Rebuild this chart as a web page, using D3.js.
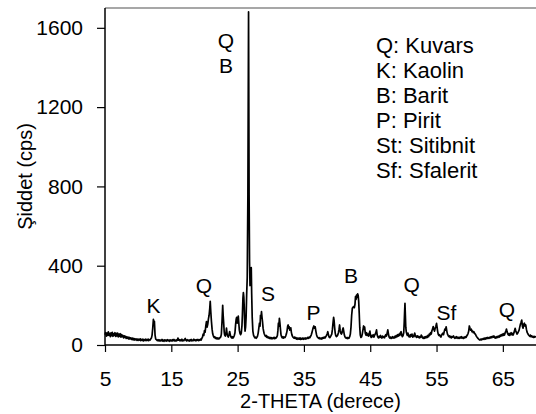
<!DOCTYPE html>
<html>
<head>
<meta charset="utf-8">
<script src="https://cdn.jsdelivr.net/npm/d3@7"></script>
<style>
  html, body { margin: 0; padding: 0; background: #fff; }
  svg { display: block; }
  text { font-family: "Liberation Sans", Arial, sans-serif; fill: #000; }
</style>
</head>
<body>
<svg id="chart" width="536" height="414"></svg>
<script>
// ---- data: [2-theta (deg), intensity (cps)] ----
const xrdPattern = [
  [5.0,52],[5.1,63],[5.2,45],[5.3,60],[5.4,48],[5.5,66],[5.6,50],[5.7,58],[5.8,42],[5.9,61],
  [6.0,47],[6.1,64],[6.2,44],[6.3,57],[6.4,49],[6.5,62],[6.6,43],[6.7,59],[6.8,46],[6.9,60],
  [7.0,41],[7.1,55],[7.2,44],[7.3,57],[7.4,40],[7.5,52],[7.6,42],[7.7,48],[7.8,36],[7.9,46],
  [8.0,38],[8.1,44],[8.2,33],[8.3,41],[8.4,34],[8.5,39],[8.6,30],[8.7,38],[8.8,31],[8.9,36],
  [9.0,28],[9.1,35],[9.2,27],[9.3,33],[9.4,25],[9.5,32],[9.6,26],[9.7,31],[9.8,24],[9.9,30],
  [10.0,23],[10.1,29],[10.2,25],[10.3,31],[10.4,22],[10.5,28],[10.6,24],[10.7,30],[10.8,21],[10.9,27],
  [11.0,23],[11.1,29],[11.2,22],[11.3,28],[11.4,24],[11.5,30],[11.6,22],[11.7,27],[11.8,25],[11.9,31],
  [12.0,35],[12.1,50],[12.2,85],[12.3,130],[12.35,105],[12.45,120],[12.55,50],[12.65,30],[12.8,26],[12.9,22],
  [13.0,27],[13.1,21],[13.2,26],[13.3,20],[13.4,25],[13.5,22],[13.6,28],[13.7,20],[13.8,24],[13.9,19],
  [14.0,26],[14.1,21],[14.2,25],[14.3,20],[14.4,27],[14.5,22],[14.6,24],[14.7,19],[14.8,26],[14.9,21],
  [15.0,25],[15.1,20],[15.2,27],[15.3,22],[15.4,28],[15.5,21],[15.6,25],[15.7,20],[15.8,26],[15.9,23],
  [16.0,35],[16.1,24],[16.2,27],[16.3,21],[16.4,26],[16.5,22],[16.6,29],[16.7,21],[16.8,25],[16.9,22],
  [17.0,28],[17.1,33],[17.2,24],[17.3,21],[17.4,27],[17.5,22],[17.6,25],[17.7,20],[17.8,26],[17.9,22],
  [18.0,28],[18.1,21],[18.2,25],[18.3,22],[18.4,29],[18.5,23],[18.6,26],[18.7,21],[18.8,27],[18.9,24],
  [19.0,28],[19.1,22],[19.2,26],[19.3,24],[19.4,30],[19.5,25],[19.6,33],[19.7,40],
  [19.8,55],[19.9,48],[20.0,72],[20.1,65],[20.2,95],[20.3,118],[20.4,90],[20.5,105],[20.6,132],[20.7,150],
  [20.8,185],[20.87,220],[20.95,170],[21.05,120],[21.15,80],[21.25,55],[21.35,45],[21.45,38],[21.55,42],[21.65,33],
  [21.75,37],[21.85,31],[21.95,36],[22.05,30],[22.15,35],[22.25,32],[22.35,38],[22.45,40],[22.55,55],[22.65,120],
  [22.75,200],[22.82,150],[22.9,110],[22.98,65],[23.05,50],[23.15,45],[23.25,60],[23.32,85],[23.4,60],[23.5,45],
  [23.6,40],[23.7,52],[23.8,68],[23.9,50],[24.0,40],[24.1,36],[24.2,42],[24.3,35],[24.4,40],[24.5,48],
  [24.6,62],[24.7,105],[24.78,130],[24.86,140],[24.94,110],[25.02,125],[25.1,146],[25.18,110],[25.26,75],[25.35,60],
  [25.45,52],[25.55,60],[25.65,95],[25.72,150],[25.8,235],[25.87,264],[25.94,240],[26.0,190],[26.06,110],[26.12,70],
  [26.2,90],[26.28,140],[26.36,250],[26.45,340],[26.55,760],[26.65,1680],[26.73,760],[26.8,420],[26.87,300],[26.93,385],
  [27.0,360],[27.06,390],[27.12,260],[27.2,140],[27.3,70],[27.4,50],[27.5,42],[27.6,36],[27.7,40],[27.8,34],
  [27.9,38],[28.0,45],[28.1,60],[28.2,85],[28.3,110],[28.38,95],[28.45,150],[28.52,135],[28.6,168],[28.68,140],
  [28.76,115],[28.84,85],[28.92,70],[29.0,58],[29.1,50],[29.2,44],[29.3,48],[29.4,39],[29.5,43],[29.6,36],
  [29.7,40],[29.8,33],[29.9,38],[30.0,32],[30.1,37],[30.2,31],[30.3,36],[30.4,33],[30.5,39],[30.6,32],
  [30.7,37],[30.8,35],[30.9,40],[31.0,48],[31.08,75],[31.15,110],[31.22,95],[31.3,135],[31.38,110],[31.46,80],
  [31.55,50],[31.65,40],[31.75,36],[31.85,42],[31.95,35],[32.05,40],[32.15,38],[32.25,45],[32.35,55],[32.45,70],
  [32.55,95],[32.62,101],[32.7,85],[32.78,92],[32.86,75],[32.94,80],[33.02,87],[33.1,65],[33.2,50],[33.3,42],
  [33.4,38],[33.5,35],[33.6,40],[33.7,33],[33.8,37],[33.9,30],[34.0,35],[34.1,29],[34.2,34],[34.3,30],
  [34.4,36],[34.5,28],[34.6,33],[34.7,30],[34.8,35],[34.9,29],[35.0,34],[35.1,31],[35.2,36],[35.3,30],
  [35.4,35],[35.5,33],[35.6,39],[35.7,34],[35.8,40],[35.9,37],[36.0,44],[36.1,50],[36.2,62],[36.3,75],
  [36.4,88],[36.5,96],[36.6,85],[36.7,92],[36.8,70],[36.9,52],[37.0,42],[37.1,38],[37.2,34],[37.3,37],
  [37.4,31],[37.5,35],[37.6,30],[37.7,36],[37.8,32],[37.9,38],[38.0,35],[38.1,40],[38.2,36],[38.3,42],
  [38.4,48],[38.5,55],[38.6,67],[38.7,50],[38.8,40],[38.9,37],[39.0,42],[39.1,48],[39.2,55],[39.3,80],
  [39.4,115],[39.48,140],[39.56,120],[39.64,85],[39.72,60],[39.8,48],[39.9,42],[40.0,45],[40.1,50],[40.2,62],
  [40.3,80],[40.38,101],[40.46,75],[40.55,60],[40.65,55],[40.75,62],[40.85,80],[40.92,86],[41.0,70],[41.1,50],
  [41.2,40],[41.3,36],[41.4,34],[41.5,38],[41.6,32],[41.7,36],[41.8,35],[41.9,42],[42.0,55],[42.1,90],
  [42.2,150],[42.3,185],[42.4,190],[42.5,194],[42.6,188],[42.7,205],[42.78,244],[42.86,230],[42.94,252],[43.02,240],
  [43.1,258],[43.18,250],[43.26,220],[43.34,160],[43.42,90],[43.5,50],[43.6,38],[43.7,42],[43.8,55],[43.9,75],
  [44.0,96],[44.08,80],[44.16,90],[44.25,60],[44.35,50],[44.45,62],[44.55,48],[44.65,55],[44.75,45],[44.85,58],
  [44.95,70],[45.05,45],[45.15,38],[45.25,48],[45.35,42],[45.45,52],[45.55,40],[45.65,48],[45.75,55],[45.85,62],
  [45.95,76],[46.05,50],[46.15,40],[46.25,36],[46.35,44],[46.45,38],[46.55,48],[46.65,40],[46.75,35],[46.85,45],
  [46.95,38],[47.05,42],[47.15,36],[47.25,46],[47.35,52],[47.45,45],[47.55,60],[47.65,76],[47.75,55],[47.85,40],
  [47.95,35],[48.05,40],[48.15,33],[48.25,38],[48.35,42],[48.45,35],[48.55,40],[48.65,36],[48.75,45],[48.85,38],
  [48.95,48],[49.05,42],[49.15,52],[49.25,45],[49.35,55],[49.45,48],[49.55,62],[49.65,67],[49.75,50],[49.85,42],
  [49.95,48],[50.05,62],[50.12,110],[50.2,180],[50.24,210],[50.3,150],[50.36,90],[50.44,65],[50.52,55],[50.6,48],
  [50.68,60],[50.76,52],[50.84,42],[50.92,48],[51.0,40],[51.1,52],[51.2,45],[51.3,55],[51.4,40],[51.5,48],
  [51.6,42],[51.7,60],[51.8,50],[51.9,42],[52.0,38],[52.1,46],[52.2,40],[52.3,44],[52.4,36],[52.5,42],
  [52.6,38],[52.7,50],[52.8,44],[52.9,36],[53.0,33],[53.1,40],[53.2,34],[53.3,42],[53.4,36],[53.5,44],
  [53.6,38],[53.7,48],[53.8,42],[53.9,55],[54.0,50],[54.1,62],[54.2,55],[54.3,72],[54.4,80],[54.5,93],
  [54.6,78],[54.7,70],[54.8,85],[54.9,95],[55.0,109],[55.08,90],[55.16,70],[55.25,55],[55.35,48],[55.45,52],
  [55.55,44],[55.65,40],[55.75,48],[55.85,55],[55.95,60],[56.05,52],[56.15,66],[56.25,80],[56.35,75],[56.45,92],
  [56.55,70],[56.65,55],[56.75,48],[56.85,42],[56.95,46],[57.05,38],[57.15,44],[57.25,36],[57.35,42],[57.45,40],
  [57.55,46],[57.65,38],[57.75,34],[57.85,40],[57.95,35],[58.05,42],[58.15,37],[58.25,33],[58.35,39],[58.45,34],
  [58.55,40],[58.65,36],[58.75,42],[58.85,35],[58.95,38],[59.05,33],[59.15,40],[59.25,36],[59.35,42],[59.45,38],
  [59.55,45],[59.65,50],[59.75,58],[59.85,70],[59.95,96],[60.05,85],[60.15,75],[60.25,80],[60.35,67],[60.45,70],
  [60.55,62],[60.65,66],[60.75,58],[60.85,55],[60.95,48],[61.05,42],[61.15,38],[61.25,33],[61.35,30],[61.45,27],
  [61.55,25],[61.65,29],[61.75,26],[61.85,31],[61.95,28],[62.05,33],[62.15,29],[62.25,35],[62.35,30],[62.45,36],
  [62.55,32],[62.65,38],[62.75,33],[62.85,37],[62.95,34],[63.05,40],[63.15,36],[63.25,42],[63.35,37],[63.45,44],
  [63.55,40],[63.65,46],[63.75,38],[63.85,35],[63.95,41],[64.05,36],[64.15,43],[64.25,38],[64.35,45],[64.45,40],
  [64.55,48],[64.65,44],[64.75,52],[64.85,46],[64.95,55],[65.05,48],[65.15,58],[65.25,50],[65.35,62],[65.45,70],
  [65.55,80],[65.65,65],[65.75,55],[65.85,50],[65.95,58],[66.05,48],[66.15,55],[66.25,62],[66.35,52],[66.45,58],
  [66.55,50],[66.65,60],[66.75,70],[66.85,84],[66.95,72],[67.05,62],[67.15,55],[67.25,60],[67.35,68],[67.45,75],
  [67.55,90],[67.65,105],[67.75,115],[67.85,126],[67.95,95],[68.05,85],[68.15,105],[68.25,110],[68.35,95],[68.45,101],
  [68.55,80],[68.65,65],[68.75,58],[68.85,52],[68.95,48],[69.05,44],[69.15,50],[69.25,42],[69.35,46],[69.45,40],
  [69.55,44],[69.65,38],[69.75,43],[69.85,40],[69.95,42],[70.0,41]
];
const xTicks = [5, 15, 25, 35, 45, 55, 65];
const yTicks = [0, 400, 800, 1200, 1600];
const peakLabels = ["K", "Q", "Q", "B", "S", "P", "B", "Q", "Sf", "Q"];
const peakX      = [12.3, 19.9, 23.25, 23.25, 29.6, 36.45, 42.1, 51.25, 56.5, 65.6];
const peakY      = [161, 262, 1498, 1372, 222, 126, 313, 267, 126, 141];
const legendLines = ["Q: Kuvars", "K: Kaolin", "B: Barit", "P: Pirit", "St: Sitibnit", "Sf: Sfalerit"];
const xTitle = "2-THETA (derece)";
const yTitle = "Şiddet (cps)";

// ---- drawing ----
const svg = d3.select("#chart");
const mLeft = 105, mRight = 536, mTop = 8, mBottom = 345;
const x = d3.scaleLinear().domain([5, 70]).range([mLeft, mRight]);
const y = d3.scaleLinear().domain([0, 1700]).range([mBottom, mTop]);

// top border
svg.append("line")
  .attr("x1", mLeft).attr("x2", mRight).attr("y1", mTop).attr("y2", mTop)
  .attr("stroke", "#8a8a8a").attr("stroke-width", 1.5);

// data line
svg.append("path")
  .datum(xrdPattern)
  .attr("fill", "none")
  .attr("stroke", "#000")
  .attr("stroke-width", 1.7)
  .attr("stroke-linejoin", "round")
  .attr("d", d3.line().x(d => x(d[0])).y(d => y(d[1])));

// axes
const xAxis = svg.append("g")
  .attr("transform", `translate(0,${mBottom})`)
  .call(d3.axisBottom(x).tickValues(xTicks).tickFormat(d3.format("d")).tickSize(7).tickPadding(19).tickSizeOuter(0));
const yAxis = svg.append("g")
  .attr("transform", `translate(${mLeft},0)`)
  .call(d3.axisLeft(y).tickValues(yTicks).tickFormat(d3.format("d")).tickSize(8).tickPadding(14).tickSizeOuter(0));
[xAxis, yAxis].forEach(g => {
  g.select(".domain").attr("stroke", "#000").attr("stroke-width", 1.5);
  g.selectAll(".tick line").attr("stroke", "#000").attr("stroke-width", 1.2);
  g.selectAll(".tick text").attr("font-size", 21).attr("font-family", "Liberation Sans, Arial, sans-serif").attr("fill", "#000");
});
yAxis.select(".domain").attr("d", `M0,${mTop}V${mBottom}`);
xAxis.select(".domain").attr("d", `M${mLeft},0H${mRight}`);

// axis titles
svg.append("text")
  .attr("x", (mLeft + mRight) / 2).attr("y", 408)
  .attr("text-anchor", "middle").attr("font-size", 20)
  .text(xTitle);
svg.append("text")
  .attr("transform", `translate(32,${(mTop + mBottom) / 2}) rotate(-90)`)
  .attr("text-anchor", "middle").attr("font-size", 20)
  .text(yTitle);

// peak labels
svg.selectAll("text.peak")
  .data(peakLabels)
  .enter().append("text")
  .attr("class", "peak")
  .attr("x", (d, i) => x(peakX[i]))
  .attr("y", (d, i) => y(peakY[i]))
  .attr("text-anchor", "middle")
  .attr("font-size", 21)
  .text(d => d);

// legend
svg.selectAll("text.legend")
  .data(legendLines)
  .enter().append("text")
  .attr("class", "legend")
  .attr("x", 376)
  .attr("y", (d, i) => 53 + i * 25)
  .attr("font-size", 22)
  .text(d => d);
</script>
</body>
</html>
